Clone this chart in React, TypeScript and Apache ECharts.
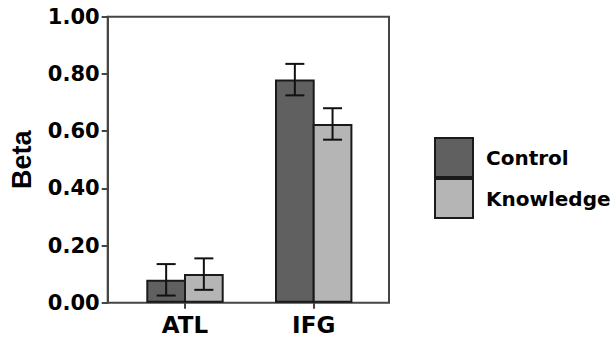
import React, { useEffect, useRef } from "react";
import * as echarts from "echarts";

// ---- data ----
const categories = ["ATL", "IFG"];
const seriesNames = ["Control", "Knowledge"];
const controlValues = [0.08, 0.78];
const knowledgeValues = [0.1, 0.625];
const controlErrors = [0.055, 0.055];
const knowledgeErrors = [0.055, 0.055];
const yTicks = [0, 0.2, 0.4, 0.6, 0.8, 1.0];
const yAxisTitle = "Beta";

// ---- style ----
const FONT = "DejaVu Sans";
const BAR_W = 39.7;
const OVERLAP = 2; // bars share their 2px border
const CAP_W = 19;
const COLORS = ["#606060", "#b5b5b5"];
const EDGE = "#1a1a1a";
const FRAME = "#454545";

const PLOT_TOP = 16.7;
const PLOT_H = 286;

function errorSeries(values: number[], errs: number[], side: number) {
  return {
    type: "custom",
    xAxisIndex: 1,
    yAxisIndex: 1,
    z: 10,
    silent: true,
    data: values.map((v, i) => [i, v, errs[i]]),
    renderItem: (params: any, api: any) => {
      const i = api.value(0);
      const v = api.value(1);
      const e = api.value(2);
      const base = api.coord([i, v]);
      const hi = api.coord([i, v + e]);
      const lo = api.coord([i, v - e]);
      const x = base[0] + (side * (BAR_W - OVERLAP)) / 2;
      const hw = CAP_W / 2;
      const style = { stroke: "#111", lineWidth: 2 };
      return {
        type: "group",
        children: [
          { type: "line", shape: { x1: x, y1: hi[1], x2: x, y2: lo[1] }, style },
          { type: "line", shape: { x1: x - hw, y1: hi[1], x2: x + hw, y2: hi[1] }, style },
          { type: "line", shape: { x1: x - hw, y1: lo[1], x2: x + hw, y2: lo[1] }, style },
        ],
      };
    },
  };
}

export default function App() {
  const ref = useRef<HTMLDivElement>(null);

  useEffect(() => {
    if (!ref.current) return;
    const chart = echarts.init(ref.current, undefined, { renderer: "svg" });
    const barGap = `${(-OVERLAP / BAR_W) * 100}%`;
    const option: any = {
      animation: false,
      backgroundColor: "#ffffff",
      textStyle: { fontFamily: FONT },
      grid: [
        {
          left: 107.7,
          top: PLOT_TOP,
          width: 281.3,
          height: PLOT_H,
          show: true,
          borderColor: FRAME,
          borderWidth: 2,
          backgroundColor: "transparent",
        },
        {
          left: 120.65,
          top: PLOT_TOP,
          width: 257.4,
          height: PLOT_H,
        },
      ],
      xAxis: [
        {
          gridIndex: 0,
          type: "value",
          show: false,
          min: 0,
          max: 1,
        },
        {
          gridIndex: 1,
          type: "category",
          data: categories,
          boundaryGap: true,
          axisLine: { show: false },
          axisTick: {
            show: true,
            alignWithLabel: true,
            length: 6,
            lineStyle: { color: FRAME, width: 2 },
          },
          axisLabel: {
            fontFamily: FONT,
            fontSize: 23,
            fontWeight: "bold",
            color: "#000",
            margin: 11,
          },
          splitLine: { show: false },
        },
      ],
      yAxis: [
        {
          gridIndex: 0,
          type: "value",
          min: yTicks[0],
          max: yTicks[yTicks.length - 1],
          interval: yTicks[1] - yTicks[0],
          name: yAxisTitle,
          nameLocation: "middle",
          nameGap: 72,
          nameTextStyle: {
            fontFamily: "Liberation Sans",
            fontSize: 27,
            fontWeight: "bold",
            color: "#000",
          },
          axisLine: { show: true, lineStyle: { color: FRAME, width: 2 } },
          axisTick: { show: true, length: 6, lineStyle: { color: FRAME, width: 2 } },
          axisLabel: {
            fontFamily: FONT,
            fontSize: 21,
            fontWeight: "bold",
            color: "#000",
            margin: 8,
            formatter: (v: number) => v.toFixed(2),
          },
          splitLine: { show: false },
        },
        {
          gridIndex: 1,
          type: "value",
          min: yTicks[0],
          max: yTicks[yTicks.length - 1],
          show: false,
        },
      ],
      legend: {
        data: seriesNames,
        orient: "vertical",
        left: 434,
        top: 137,
        padding: 0,
        itemWidth: 38,
        itemHeight: 39,
        itemGap: 0,
        icon: "rect",
        textStyle: {
          fontFamily: FONT,
          fontSize: 20,
          fontWeight: "bold",
          color: "#000",
          padding: [0, 0, 0, 8],
        },
      },
      series: [
        {
          name: seriesNames[0],
          type: "bar",
          xAxisIndex: 1,
          yAxisIndex: 1,
          barWidth: BAR_W,
          barGap,
          data: controlValues,
          itemStyle: { color: COLORS[0], borderColor: EDGE, borderWidth: 2 },
        },
        {
          name: seriesNames[1],
          type: "bar",
          xAxisIndex: 1,
          yAxisIndex: 1,
          barWidth: BAR_W,
          barGap,
          data: knowledgeValues,
          itemStyle: { color: COLORS[1], borderColor: EDGE, borderWidth: 2 },
        },
        errorSeries(controlValues, controlErrors, -1),
        errorSeries(knowledgeValues, knowledgeErrors, 1),
      ],
    };
    chart.setOption(option);
    return () => chart.dispose();
  }, []);

  return (
    <div
      ref={ref}
      style={{ position: "absolute", left: 0, top: 0, width: 616, height: 343 }}
    />
  );
}
